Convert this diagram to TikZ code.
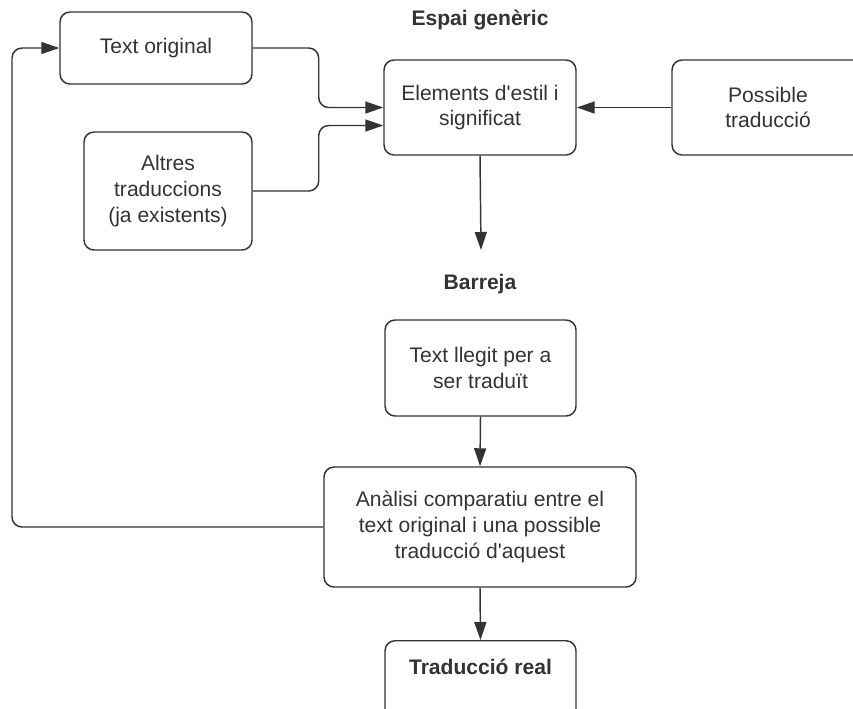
\documentclass[tikz,border=0pt]{standalone}
\usepackage{fontspec}
\setmainfont{Liberation Sans}
\usetikzlibrary{arrows.meta,calc}
\definecolor{ink}{HTML}{333333}
\begin{document}
\begin{tikzpicture}[x=0.75pt,y=-0.75pt,
  box/.style={draw=ink, line width=1.1pt, rounded corners=7.5pt, align=center, text=ink,
    font=\fontsize{15.8pt}{19.3pt}\selectfont, inner sep=0pt},
  lbl/.style={text=ink, font=\fontsize{15.8pt}{19.3pt}\selectfont\bfseries},
  arr/.style={draw=ink, line width=1.1pt, rounded corners=7.5pt, -{Triangle[length=13.5pt,width=9pt]}}]
\useasboundingbox (0,0) rectangle (853,708);
\node[box, minimum width=144pt, minimum height=54pt] (to) at (156,48) {Text original};
\node[box, minimum width=144pt, minimum height=71.25pt] (el) at (480,107.5) {Elements d\textquotesingle estil i\\significat};
\node[box, minimum width=144pt, minimum height=71.25pt] (pos) at (768,107.5) {Possible\\traducció};
\node[box, minimum width=126pt, minimum height=88.5pt] (alt) at (168,191) {Altres\\traduccions\\(ja existents)};
\node[lbl] (esp) at (480,20) {Espai genèric};
\node[lbl] (bar) at (480,284) {Barreja};
\node[box, minimum width=143.25pt, minimum height=72pt] (tl) at (480.5,368) {Text llegit per a\\ser traduït};
\node[box, minimum width=234pt, minimum height=90pt] (an) at (480,527) {Anàlisi comparatiu entre el\\text original i una possible\\traducció d\textquotesingle aquest};
\node[box, minimum width=143.25pt, minimum height=72pt, anchor=north] (real) at (480.5,640) {};
\node[lbl] (realt) at (480.5,667) {Traducció real};
\coordinate (dn) at (481,250);
\draw[arr] (to.east) -- ++(66,0) |- (el.west);
\draw[arr] (alt.east) -- ++(66,0) |- ($(el.west)+(0,18)$);
\draw[arr] (pos.west) -- (el.east);
\draw[arr] (el.south) -- (dn);
\draw[arr] (tl.south) -- (an.north);
\draw[arr] (an.south) -- (real.north);
\draw[arr] (an.west) -- (12,527) |- (to.west);
\end{tikzpicture}
\end{document}
